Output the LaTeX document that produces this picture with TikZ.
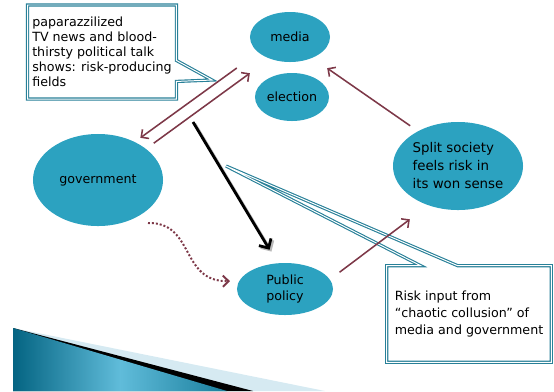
\documentclass[tikz,border=0pt]{standalone}
\usepackage{fontspec}
\setmainfont{DejaVu Sans}
\usetikzlibrary{shapes.geometric,shapes.callouts,arrows.meta,calc}
\definecolor{bubble}{RGB}{44,162,192}
\definecolor{frameteal}{RGB}{40,128,152}
\definecolor{riskred}{RGB}{125,56,72}
\definecolor{wedgedark}{RGB}{4,100,130}
\definecolor{wedgelight}{RGB}{96,188,218}
\definecolor{wedgeend}{RGB}{26,126,156}
\definecolor{wedgepale}{RGB}{214,234,242}

\begin{document}
\begin{tikzpicture}[x=0.025cm,y=-0.025cm,
    bub/.style={ellipse,fill=bubble,inner sep=0pt,font=\fontsize{9}{12}\selectfont},
    frame/.style={draw=frameteal,double=white,double distance=0.7pt,line width=0.8pt},
    note/.style={frame,fill=white,align=left,font=\fontsize{9}{10.6}\selectfont},
    link/.style={draw=riskred,line width=1.1pt,-{Straight Barb[length=4pt,width=8pt]}},
    bigarrow/.style={line width=2pt,-{Straight Barb[length=5pt,width=10pt]},shorten >=11pt}
  ]
  \useasboundingbox (0,0) rectangle (554,391);
  \fill[wedgepale] (13,328) -- (325,391) -- (13,391) -- cycle;
  \fill[black] (13,328) -- (253,391) -- (13,391) -- cycle;
  \shade[left color=wedgedark,right color=wedgeend,middle color=wedgelight]
    (13,328) -- (227,391) -- (13,391) -- cycle;

  \node[bub,minimum width=2cm,minimum height=1.25cm] (media) at (290,37) {media};
  \node[bub,minimum width=1.85cm,minimum height=1.2cm] (election) at (292,97) {election};
  \node[bub,minimum width=3.25cm,minimum height=2.3cm] (government) at (98,180) {government};
  \node[bub,minimum width=3.25cm,minimum height=2.2cm,align=left,font=\fontsize{9.5}{12.8}\selectfont]
    (society) at (458,166) {Split society\\feels risk in\\its won sense};
  \node[bub,minimum width=2.4cm,minimum height=1.3cm,align=center] (policy) at (285,289) {Public\\policy};

  \node[note,rectangle callout,minimum width=3.7cm,minimum height=2.35cm,
    callout absolute pointer={(5.3cm,-2cm)},callout pointer width=0.525cm]
    (fieldsnote) at (102,52) {paparazzilized\\TV news and blood-\\thirsty political talk\\shows: risk-producing\\fields};

  \node[align=left,font=\fontsize{9}{12}\selectfont,minimum width=4.1cm,minimum height=2.4cm]
    (risknote) at (469,314) {Risk input from\\“chaotic collusion” of\\media and government};
  \coordinate (risktip) at (226,166);
  \draw[frame] (risknote.north west) -- ($(risknote.north west)+(34,0)$) -- (risktip)
    -- ($(risknote.north west)+(71,0)$) -- (risknote.north east) -- (risknote.south east)
    -- (risknote.south west) -- cycle;

  \draw[link,shorten <=18.8pt,shorten >=4.8pt] (media.206) -- (government.46);
  \draw[link,shorten <=6.7pt,shorten >=17.4pt] (government.33.6) -- (media.227);
  \draw[link,shorten <=8.5pt,shorten >=16.4pt] (policy.12.4) -- (society.233);
  \draw[link,shorten <=6.6pt,shorten >=12.7pt] (society.139.3) -- (media.317);

  \coordinate (blackstart) at (193,122);
  \draw[bigarrow,gray!55,transform canvas={shift={(1.3pt,-1.3pt)}}] (blackstart) -- (policy.106.9);
  \draw[bigarrow,black] (blackstart) -- (policy.106.9);

  \coordinate (dotstart) at (148,223);
  \draw[riskred,line width=1.4pt,dash pattern=on 1.4pt off 1.4pt,
    -{Straight Barb[length=4pt,width=8pt]},shorten >=6.5pt]
    (dotstart) .. controls (195,222) and (180,282) .. (policy.170);
\end{tikzpicture}
\end{document}
